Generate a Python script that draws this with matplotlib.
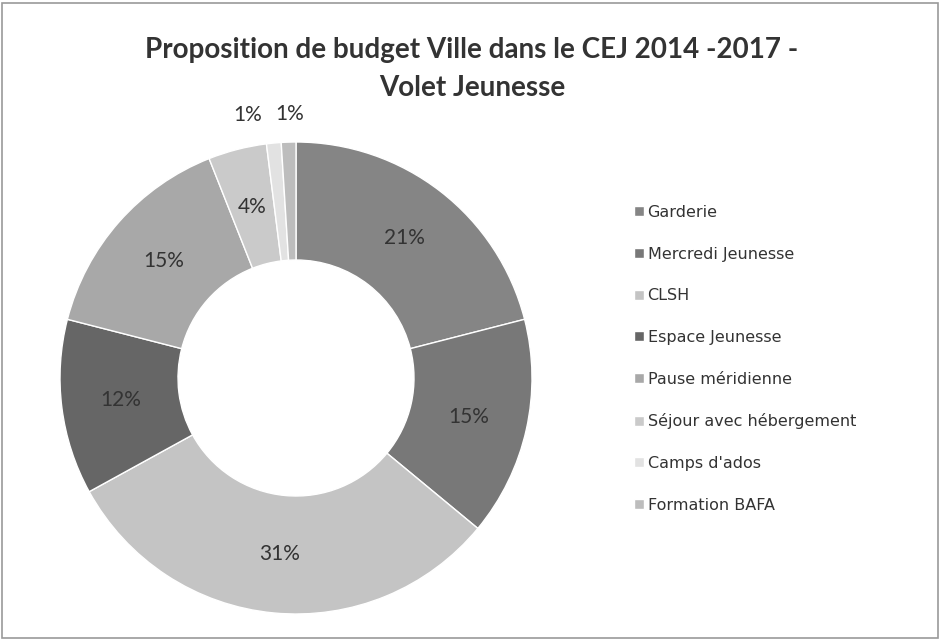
import math
import matplotlib.pyplot as plt
from matplotlib.patches import Rectangle

# ---------------------------------------------------------
# Données du graphique (parts du budget, en %)
# ---------------------------------------------------------
categories = ["Garderie", "Mercredi Jeunesse", "CLSH", "Espace Jeunesse",
              "Pause méridienne", "Séjour avec hébergement", "Camps d'ados",
              "Formation BAFA"]
parts = [21, 15, 31, 12, 15, 4, 1, 1]
couleurs = ["#858585", "#787878", "#c4c4c4", "#666666",
            "#a8a8a8", "#cacaca", "#e2e2e2", "#bdbdbd"]

titre_1 = "Proposition de budget Ville dans le CEJ 2014 -2017 -"
titre_2 = "Volet Jeunesse"

plt.rcParams['font.family'] = ['Lato', 'DejaVu Sans']

W, H = 940, 640
fig = plt.figure(figsize=(W / 100, H / 100), dpi=100)

# cadre gris autour du graphique
fig.patches.append(Rectangle((2 / W, 2 / H), 1 - 4 / W, 1 - 5 / H,
                             transform=fig.transFigure, fill=False,
                             edgecolor="#9a9a9a", linewidth=1.2))

# ---------------------------------------------------------
# Anneau (donut)
# ---------------------------------------------------------
cx, cy, r = 296, 378, 236   # centre et rayon en pixels
ax = fig.add_axes([(cx - r) / W, (H - cy - r) / H, 2 * r / W, 2 * r / H])
wedges, _ = ax.pie(parts, colors=couleurs, startangle=90, counterclock=False,
                   radius=1.0, wedgeprops=dict(width=0.5, edgecolor="white",
                                               linewidth=1.0))
ax.set_xlim(-1, 1)
ax.set_ylim(-1, 1)
ax.axis("off")

# étiquettes : à l'intérieur de l'anneau, ou au-dessus pour les petites parts
decalage = {6: -0.10, 7: 0.01}
for i, (w, p) in enumerate(zip(wedges, parts)):
    ang = math.radians((w.theta1 + w.theta2) / 2)
    rr = 0.75 if p >= 3 else 1.12
    ax.text(rr * math.cos(ang) + decalage.get(i, 0.0), rr * math.sin(ang),
            f"{p}%", ha="center", va="center", fontsize=15,
            color="#333333", clip_on=False)

# ---------------------------------------------------------
# Titre et légende
# ---------------------------------------------------------
fig.text(472 / W, 1 - 50 / H, titre_1, ha="center", va="center",
         fontsize=20, fontweight="bold", color="#333333")
fig.text(472 / W, 1 - 88 / H, titre_2, ha="center", va="center",
         fontsize=20, fontweight="bold", color="#333333")

fig.legend(wedges, categories, loc="upper left",
           bbox_to_anchor=(626 / W, 1 - 197 / H), frameon=False,
           prop=dict(family="DejaVu Sans", size=11.5),
           handlelength=0.6, handleheight=0.6,
           handletextpad=0.25, labelspacing=1.67, borderpad=0,
           labelcolor="#333333")

fig.savefig("out.png", dpi=100)
